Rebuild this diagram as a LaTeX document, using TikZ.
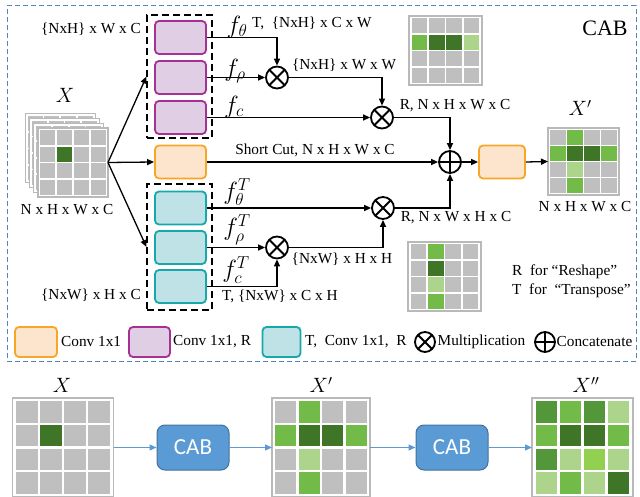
\documentclass[tikz,border=0pt]{standalone}
\usepackage{fontspec}
\setmainfont{Liberation Serif}
\newfontfamily\cabfont{Carlito}
\usetikzlibrary{arrows.meta,calc}
\definecolor{cg}{RGB}{191,191,191}
\definecolor{cd}{RGB}{62,117,38}
\definecolor{cn}{RGB}{114,187,72}
\definecolor{cm}{RGB}{84,150,58}
\definecolor{cl}{RGB}{172,212,138}
\definecolor{cb}{RGB}{146,208,80}
\definecolor{gridline}{RGB}{185,185,185}
\definecolor{purS}{RGB}{166,48,150}
\definecolor{purF}{RGB}{224,206,228}
\definecolor{teaS}{RGB}{22,168,170}
\definecolor{teaF}{RGB}{190,226,229}
\definecolor{oraS}{RGB}{247,166,40}
\definecolor{oraF}{RGB}{252,228,205}
\definecolor{framec}{RGB}{80,130,190}
\definecolor{cabF}{RGB}{91,155,213}
\definecolor{cabS}{RGB}{65,113,156}
\newcommand\cellgrid[6]{%
  \node[gridbox, minimum width=#4pt, minimum height=#5pt] (#1) at (#2,#3) {};
  \foreach \cc [count=\k from 0] in {#6} {
    \pgfmathtruncatemacro\rr{floor(\k/4)}
    \pgfmathtruncatemacro\qq{mod(\k,4)}
    \pgfmathsetmacro\mx{0.035*#4}
    \pgfmathsetmacro\my{0.035*#5}
    \pgfmathsetmacro\gx{0.025*#4}
    \pgfmathsetmacro\gy{0.025*#5}
    \pgfmathsetmacro\px{(#4-2*\mx+\gx)/4}
    \pgfmathsetmacro\py{(#5-2*\my+\gy)/4}
    \fill[fill=\cc] ({#2-#4/2+\mx+\qq*\px},{#3-#5/2+\my+\rr*\py}) rectangle ++({\px-\gx},{\py-\gy});
  }
}
\tikzset{
  gridbox/.style={draw=gridline, line width=1.2pt, fill=white, inner sep=0pt, outer sep=0pt},
  convbox/.style={rounded corners=4pt, line width=1.8pt, minimum width=51pt, minimum height=33pt, inner sep=0pt},
  purbox/.style={convbox, draw=purS, fill=purF},
  teabox/.style={convbox, draw=teaS, fill=teaF},
  orabox/.style={convbox, draw=oraS, fill=oraF},
  dbox/.style={draw=black, dashed, dash pattern=on 7pt off 4pt, line width=1.1pt, inner sep=0pt},
  arr/.style={line width=1.3pt, -{Triangle[length=7pt,width=6pt]}},
  barr/.style={draw=cabF, line width=1.2pt, -{Triangle[length=7pt,width=6pt]}},
  mult/.style={circle, draw, line width=1.8pt, minimum size=22pt, inner sep=0pt, fill=white,
    path picture={\draw[line width=1.8pt] (path picture bounding box.north west) -- (path picture bounding box.south east)
      (path picture bounding box.north east) -- (path picture bounding box.south west);}},
  concat/.style={circle, draw, line width=1.8pt, minimum size=22pt, inner sep=0pt, fill=white,
    path picture={\draw[line width=1.8pt] (path picture bounding box.north) -- (path picture bounding box.south)
      (path picture bounding box.east) -- (path picture bounding box.west);}},
  txt/.style={font=\fontsize{15.3}{17}\selectfont, inner sep=0pt},
  flab/.style={font=\fontsize{25}{27}\selectfont, inner sep=0pt},
  xlab/.style={font=\fontsize{22}{24}\selectfont, inner sep=0pt},
  cabbox/.style={draw=cabS, fill=cabF, line width=1pt, rounded corners=8pt, minimum width=72pt, minimum height=45pt,
    font=\cabfont\fontsize{23}{25}\selectfont, text=white, inner sep=0pt},
}
\begin{document}
\begin{tikzpicture}[x=1pt,y=-1pt]
\useasboundingbox (0,0) rectangle (640,497);
% frame
\node[draw=framec, dashed, dash pattern=on 5pt off 3pt, line width=1pt, minimum width=629pt, minimum height=355pt, inner sep=0pt] (frame) at (321.5,183.5) {};
\node[font=\fontsize{22}{24}\selectfont, inner sep=0pt] (cabt) at (605,28) {CAB};

% stacked input X
\cellgrid{xl3}{60.1}{148.4}{70}{69}{cg,cg,cg,cg,cg,cg,cg,cg,cg,cg,cg,cg,cg,cg,cg,cg}
\cellgrid{xl2}{64.4}{153.1}{70}{69}{cg,cg,cg,cg,cg,cg,cg,cg,cg,cg,cg,cg,cg,cg,cg,cg}
\cellgrid{xl1}{68.7}{157.8}{70}{69}{cg,cg,cg,cg,cg,cg,cg,cg,cg,cg,cg,cg,cg,cg,cg,cg}
\cellgrid{xg}{73}{162.5}{70}{69}{cg,cg,cg,cg,cg,cd,cg,cg,cg,cg,cg,cg,cg,cg,cg,cg}
\node[xlab] (xlabt) at (65,95) {$X$};
\node[txt] (xdim) at (67,210) {N x H x W x C};

% dashed groups
\node[dbox, minimum width=65pt, minimum height=123pt] (dtop) at (179.5,76.5) {};
\node[dbox, minimum width=65pt, minimum height=126pt] (dbot) at (179.5,247) {};

% conv boxes
\node[purbox] (p1) at (180.5,37.5) {};
\node[purbox] (p2) at (180.5,77.5) {};
\node[purbox] (p3) at (180.5,117.5) {};
\node[orabox] (o1) at (180.5,162) {};
\node[teabox] (t1) at (180.5,208) {};
\node[teabox] (t2) at (180.5,247.5) {};
\node[teabox] (t3) at (180.5,286.5) {};
\node[orabox, minimum width=46pt] (o2) at (502,162) {};

% operators
\node[mult] (m1) at (277,77.5) {};
\node[mult] (m2) at (382,117.5) {};
\node[mult] (m3) at (383,208) {};
\node[mult] (m4) at (277,247.5) {};
\node[concat] (c1) at (450,162) {};

% output X'
\cellgrid{xpg}{583.5}{161.5}{71}{67}{cg,cn,cg,cg,cn,cd,cd,cn,cg,cl,cg,cg,cg,cn,cg,cg}
\node[xlab] (xplab) at (580,108) {$X'$};
\node[txt] (xpdim) at (585,207) {N x H x W x C};

% illustration grids
\cellgrid{ga}{445.5}{50.5}{73}{69}{cg,cg,cg,cg,cn,cd,cd,cl,cg,cg,cg,cg,cg,cg,cg,cg}
\cellgrid{gb}{444.5}{276.5}{73}{69}{cg,cn,cg,cg,cg,cd,cg,cg,cg,cl,cg,cg,cg,cn,cg,cg}

% connectors from X
\draw[arr] (xg.east) -- (dtop.west);
\draw[arr] (xg.east) -- (o1.west);
\draw[arr] (xg.east) -- (dbot.west);

% upper branch
\draw[arr] (p1.east) -| (m1.north);
\draw[arr] (p2.east) -- (m1.west);
\draw[arr] (m1.east) -| (m2.north);
\draw[arr] (p3.east) -- (m2.west);
\draw[arr] (m2.east) -| (c1.north);
\draw[arr] (o1.east) -- (c1.west);
\draw[arr] (c1.east) -- (o2.west);
\draw[arr] (o2.east) -- (xpg.west);
% lower branch
\draw[arr] (t1.east) -- (m3.west);
\draw[arr] (m3.east) -| (c1.south);
\draw[arr] (t2.east) -- (m4.west);
\draw[arr] (t3.east) -| (m4.south);
\draw[arr] (m4.east) -| (m3.south);

% labels
\node[txt, anchor=east] (l1) at (141,29) {\{NxH\} x W x C};
\node[txt, anchor=east] (l2) at (141,295) {\{NxW\} x H x C};
\node[txt, anchor=west] (l3) at (252,23) {T,\ \ \{NxH\} x C x W};
\node[txt] (l4) at (344,65) {\{NxH\} x W x W};
\node[txt] (l5) at (455,106) {R, N x H x W x C};
\node[txt] (l6) at (315,150) {Short Cut, N x H x W x C};
\node[txt] (l7) at (456,218) {R, N x W x H x C};
\node[txt] (l8) at (342,259) {\{NxW\} x H x H};
\node[txt] (l9) at (280,296) {T, \{NxW\} x C x H};
\node[txt, anchor=west] (l10) at (512,272) {R\ \ for ``Reshape''};
\node[txt, anchor=west] (l11) at (512,291) {T\ \ for\ \ ``Transpose''};

\node[flab] (f1) at (237,27) {$f_\theta$};
\node[flab] (f2) at (235,71) {$f_\rho$};
\node[flab] (f3) at (234,107) {$f_c$};
\node[flab] (f4) at (237,192) {$f_\theta^T$};
\node[flab] (f5) at (237,230) {$f_\rho^T$};
\node[flab] (f6) at (236,270) {$f_c^T$};

% legend
\node[orabox, minimum width=42pt, minimum height=30pt] (lg1) at (36,342) {};
\node[txt, anchor=west] (lt1) at (61,342) {Conv 1x1};
\node[purbox, minimum width=41pt, minimum height=30pt] (lg2) at (149.5,342) {};
\node[txt, anchor=west] (lt2) at (173,342) {Conv 1x1, R};
\node[teabox, minimum width=38pt, minimum height=30pt] (lg3) at (281.5,342) {};
\node[txt, anchor=west] (lt3) at (305,342) {T,\ \ Conv 1x1,\ \ R};
\node[mult, minimum size=20pt] (lg4) at (425,342) {};
\node[txt, anchor=west] (lt4) at (437.5,342) {Multiplication};
\node[concat, minimum size=20pt] (lg5) at (545,342) {};
\node[txt, anchor=west] (lt5) at (556.5,342) {Concatenate};

% bottom pipeline
\cellgrid{xb}{63}{447.5}{101}{99}{cg,cg,cg,cg,cg,cd,cg,cg,cg,cg,cg,cg,cg,cg,cg,cg}
\cellgrid{xpb}{321}{447.5}{98}{99}{cg,cn,cg,cg,cn,cd,cd,cn,cg,cl,cg,cg,cg,cn,cg,cg}
\cellgrid{xppb}{582.5}{447.5}{101}{99}{cm,cn,cm,cl,cn,cd,cd,cn,cm,cl,cb,cl,cl,cn,cl,cd}
\node[xlab] (xbl) at (62,385) {$X$};
\node[xlab] (xpbl) at (321,385) {$X'$};
\node[xlab] (xppbl) at (586,385) {$X''$};
\node[cabbox] (cab1) at (193,447.5) {CAB};
\node[cabbox] (cab2) at (452,447.5) {CAB};
\draw[barr] (xb.east) -- (cab1.west);
\draw[barr] (cab1.east) -- (xpb.west);
\draw[barr] (xpb.east) -- (cab2.west);
\draw[barr] (cab2.east) -- (xppb.west);
\end{tikzpicture}
\end{document}
